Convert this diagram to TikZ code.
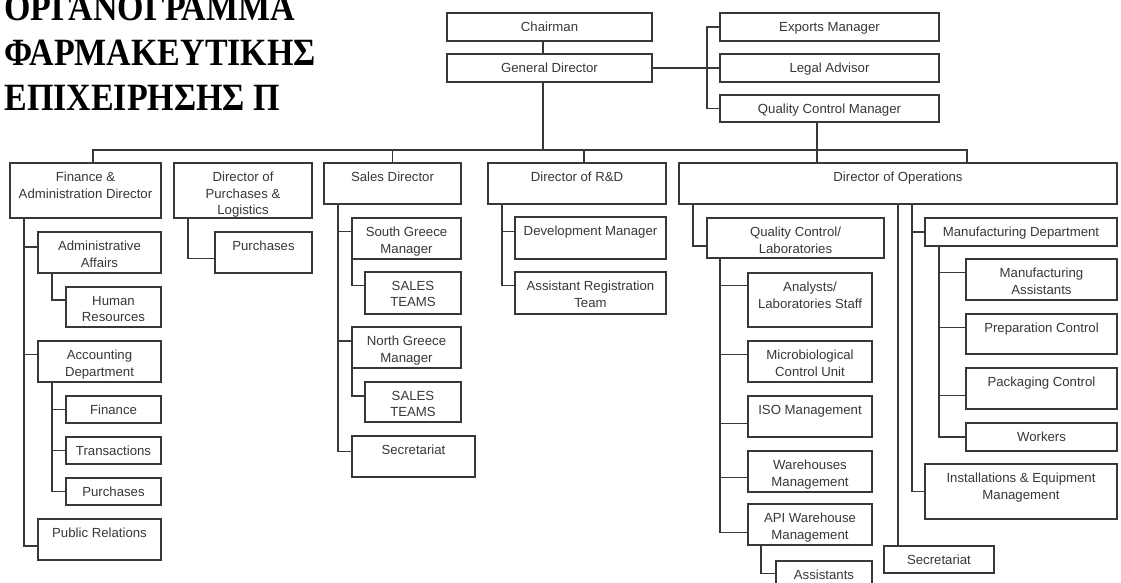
\documentclass[tikz,border=0pt]{standalone}
\usepackage{fontspec}
\setmainfont{Liberation Sans}
\newfontfamily\titlefont{Liberation Serif}
\usetikzlibrary{fit}
\definecolor{ink}{gray}{0.22}

\begin{document}
\begin{tikzpicture}[
x=0.5pt, y=-0.5pt,
box/.style={draw=ink, line width=0.6pt, inner sep=0pt, outer sep=0pt},
lbl/.style={font=\fontsize{6.6}{8.35}\selectfont, text=ink, align=center, anchor=north, inner sep=0pt, yshift=-4.3pt},
link/.style={draw=ink, line width=0.6pt},
heading/.style={font=\titlefont\bfseries\fontsize{19.3}{22.5}\selectfont, align=left, inner sep=0pt}
]
\fill[white] (0,0) rectangle (1121,583);
\useasboundingbox (0,0) rectangle (1121,583);

\node[heading, anchor=base west] (ttl) at (4,111) {\scalebox{0.88}[1]{ΟΡΓΑΝΟΓΡΑΜΜΑ}\\\scalebox{0.88}[1]{ΦΑΡΜΑΚΕΥΤΙΚΗΣ}\\\scalebox{0.88}[1]{ΕΠΙΧΕΙΡΗΣΗΣ Π}};

% top management
\node[box, fit={(447,13) (652,41)}, label={[lbl]north:Chairman}] (chair) {};
\node[box, fit={(447,54) (652,82)}, label={[lbl]north:General Director}] (gd) {};
\node[box, fit={(720,13) (939,41)}, label={[lbl]north:Exports Manager}] (exp) {};
\node[box, fit={(720,54) (939,82)}, label={[lbl]north:Legal Advisor}] (legal) {};
\node[box, fit={(720,95) (939,122)}, label={[lbl]north:Quality Control Manager}] (qcm) {};

% directors
\node[box, fit={(10,163) (161,218)}, label={[lbl]north:{Finance \&\\Administration Director}}] (fin) {};
\node[box, fit={(174,163) (312,218)}, label={[lbl]north:{Director of\\Purchases \&\\Logistics}}] (dpl) {};
\node[box, fit={(324,163) (461,204)}, label={[lbl]north:Sales Director}] (sales) {};
\node[box, fit={(488,163) (666,204)}, label={[lbl]north:{Director of R\&D}}] (rd) {};
\node[box, fit={(679,163) (1117,204)}, label={[lbl]north:Director of Operations}] (ops) {};

% finance & administration
\node[box, fit={(38,232) (161,273)}, label={[lbl]north:{Administrative\\Affairs}}] (adm) {};
\node[box, fit={(66,287) (161,327)}, label={[lbl]north:{Human\\Resources}}] (hr) {};
\node[box, fit={(38,341) (161,382)}, label={[lbl]north:{Accounting\\Department}}] (acc) {};
\node[box, fit={(66,396) (161,423)}, label={[lbl]north:Finance}] (fnc) {};
\node[box, fit={(66,437) (161,464)}, label={[lbl]north:Transactions}] (trn) {};
\node[box, fit={(66,478) (161,505)}, label={[lbl]north:Purchases}] (pch) {};
\node[box, fit={(38,519) (161,560)}, label={[lbl]north:Public Relations}] (pr) {};

% purchases & logistics
\node[box, fit={(215,232) (312,273)}, label={[lbl]north:Purchases}] (pur) {};

% sales
\node[box, fit={(352,218) (461,259)}, label={[lbl]north:{South Greece\\Manager}}] (sgm) {};
\node[box, fit={(365,272) (461,314)}, label={[lbl]north:{SALES\\TEAMS}}] (st1) {};
\node[box, fit={(352,327) (461,368)}, label={[lbl]north:{North Greece\\Manager}}] (ngm) {};
\node[box, fit={(365,382) (461,422)}, label={[lbl]north:{SALES\\TEAMS}}] (st2) {};
\node[box, fit={(352,436) (475,477)}, label={[lbl]north:Secretariat}] (ssec) {};

% r&d
\node[box, fit={(515,217) (666,259)}, label={[lbl]north:Development Manager}] (dev) {};
\node[box, fit={(515,272) (666,314)}, label={[lbl]north:{Assistant Registration\\Team}}] (art) {};

% operations
\node[box, fit={(707,218) (884,258)}, label={[lbl]north:{Quality Control/\\Laboratories}}] (qcl) {};
\node[box, fit={(748,273) (872,327)}, label={[lbl]north:{Analysts/\\Laboratories Staff}}] (ana) {};
\node[box, fit={(748,341) (872,382)}, label={[lbl]north:{Microbiological\\Control Unit}}] (mic) {};
\node[box, fit={(748,396) (872,437)}, label={[lbl]north:ISO Management}] (iso) {};
\node[box, fit={(748,451) (872,492)}, label={[lbl]north:{Warehouses\\Management}}] (wh) {};
\node[box, fit={(748,504) (872,545)}, label={[lbl]north:{API Warehouse\\Management}}] (api) {};
\node[box, fit={(776,561) (872,600)}, label={[lbl]north:Assistants}] (ast) {};
\node[box, fit={(884,546) (994,573)}, label={[lbl]north:Secretariat}] (osec) {};
\node[box, fit={(925,218) (1117,246)}, label={[lbl]north:Manufacturing Department}] (mfg) {};
\node[box, fit={(966,259) (1117,300)}, label={[lbl]north:{Manufacturing\\Assistants}}] (mas) {};
\node[box, fit={(966,314) (1117,354)}, label={[lbl]north:Preparation Control}] (prc) {};
\node[box, fit={(966,368) (1117,409)}, label={[lbl]north:Packaging Control}] (pkc) {};
\node[box, fit={(966,423) (1117,451)}, label={[lbl]north:Workers}] (wrk) {};
\node[box, fit={(925,464) (1117,519)}, label={[lbl]north:{Installations \& Equipment\\Management}}] (inst) {};

% top links
\coordinate (adv) at (707,68);
\coordinate (bus) at (543,150);
\draw[link] ([xshift=-3.25pt]chair.south) -- ([xshift=-3.25pt]gd.north);
\draw[link] (gd.east) -- (adv) -- (legal.west);
\draw[link] (exp.west) -| (adv) |- (qcm.west);
\draw[link] ([xshift=-3.25pt]gd.south) -- (bus);
\draw[link] ([xshift=3.75pt]fin.north) |- (bus) -| ([xshift=34.5pt]ops.north);
\draw[link] (sales.north) |- (bus);
\draw[link] ([xshift=3.5pt]rd.north) |- (bus);
\draw[link] ([xshift=-6.25pt]qcm.south) -- ++(0,41);

% finance links
\draw[link] ([xshift=7pt]fin.south west) |- ([yshift=-3.25pt]pr.west);
\draw[link] ([xshift=7pt]fin.south west) |- ([yshift=2.75pt]adm.west);
\draw[link] ([xshift=7pt]fin.south west) |- ([yshift=3.65pt]acc.west);
\draw[link] ([xshift=7pt]adm.south west) |- ([yshift=3.5pt]hr.west);
\draw[link] ([xshift=7pt]acc.south west) |- (pch.west);
\draw[link] ([xshift=7pt]acc.south west) |- (fnc.west);
\draw[link] ([xshift=7pt]acc.south west) |- (trn.west);
\draw[link] ([xshift=7pt]dpl.south west) |- ([yshift=-2.9pt]pur.west);

% sales links
\draw[link] ([xshift=7pt]sales.south west) |- ([yshift=2.4pt]ssec.west);
\draw[link] ([xshift=7pt]sales.south west) |- ([yshift=3.4pt]sgm.west);
\draw[link] ([xshift=7pt]sales.south west) |- ([yshift=3.25pt]ngm.west);
\draw[link] (sgm.south west) |- ([yshift=3.65pt]st1.west);
\draw[link] (ngm.south west) |- ([yshift=3pt]st2.west);

% r&d links
\draw[link] ([xshift=7pt]rd.south west) |- ([yshift=3.65pt]art.west);
\draw[link] ([xshift=7pt]rd.south west) |- ([yshift=3.15pt]dev.west);

% operations links
\draw[link] ([xshift=7pt]ops.south west) |- ([yshift=-4pt]qcl.west);
\draw[link] (ops.south) -- (ops.south |- osec.north);
\draw[link] ([xshift=7pt]ops.south) |- (inst.west);
\draw[link] ([xshift=7pt]ops.south) |- (mfg.west);
\draw[link] ([xshift=6.5pt]qcl.south west) |- ([yshift=-3.9pt]api.west);
\draw[link] ([xshift=6.5pt]qcl.south west) |- ([yshift=7.15pt]ana.west);
\draw[link] ([xshift=6.5pt]qcl.south west) |- ([yshift=3.6pt]mic.west);
\draw[link] ([xshift=6.5pt]qcl.south west) |- ([yshift=-3.4pt]iso.west);
\draw[link] ([xshift=6.5pt]qcl.south west) |- ([yshift=-3.1pt]wh.west);
\draw[link] ([xshift=6.5pt]api.south west) |- ([yshift=3.6pt]ast.west);
\draw[link] ([xshift=7pt]mfg.south west) |- (wrk.west);
\draw[link] ([xshift=7pt]mfg.south west) |- ([yshift=3.6pt]mas.west);
\draw[link] ([xshift=7pt]mfg.south west) |- ([yshift=3.35pt]prc.west);
\draw[link] ([xshift=7pt]mfg.south west) |- ([yshift=-3.6pt]pkc.west);
\end{tikzpicture}
\end{document}
